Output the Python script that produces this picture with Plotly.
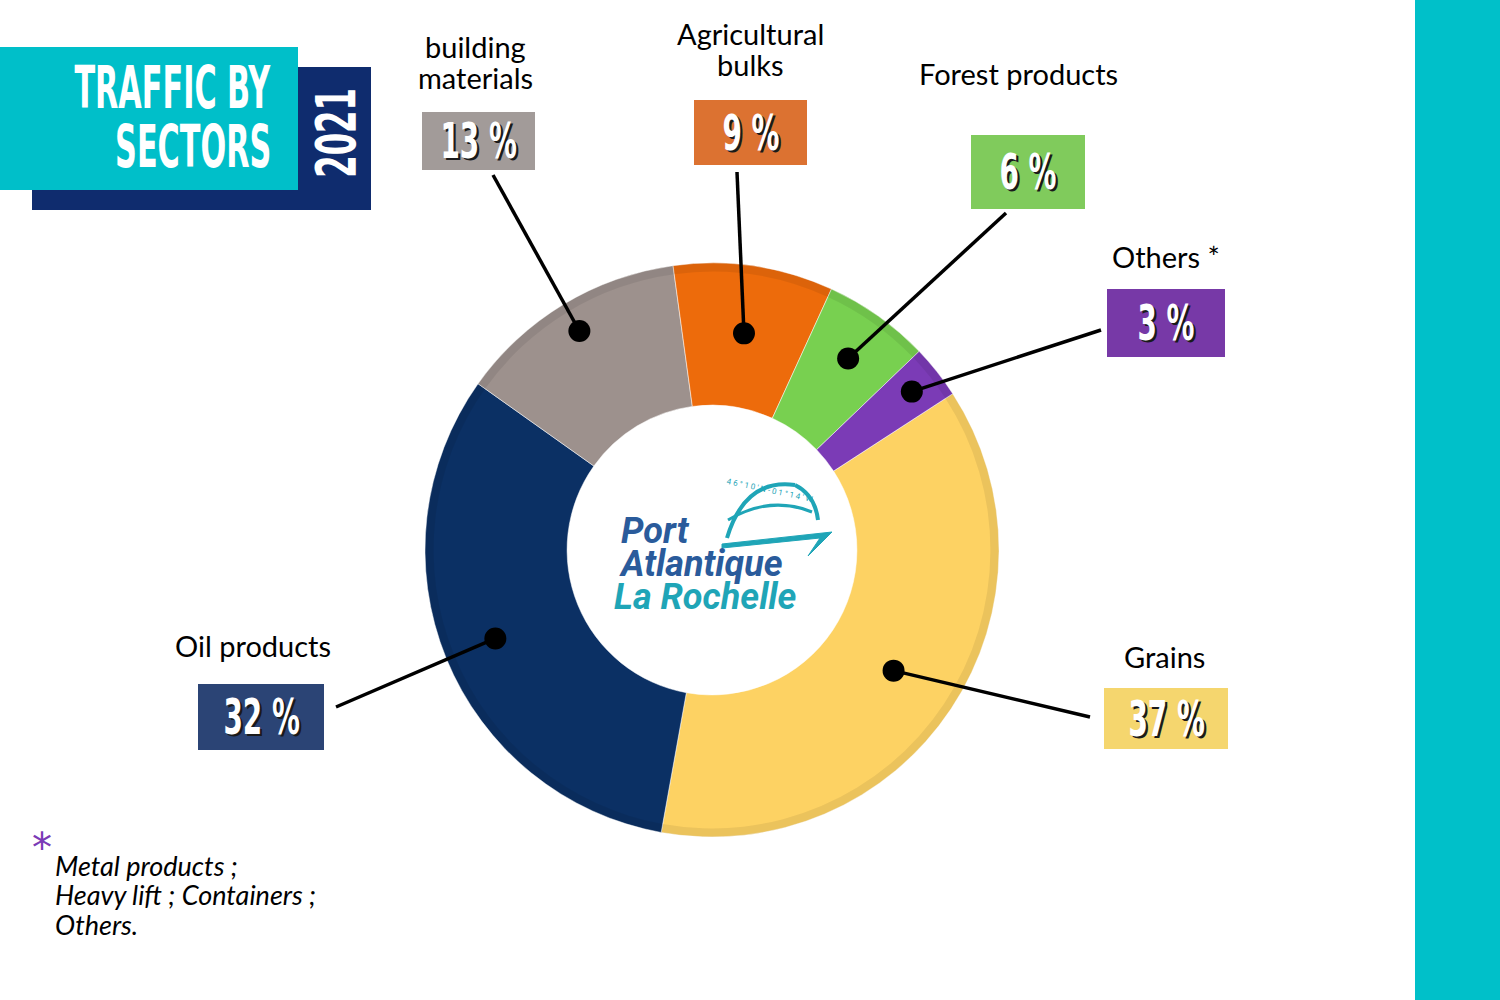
import math
import json
import plotly.graph_objects as go

# ---- data ----
categories = ["Grains", "Oil products", "building<br>materials", "Agricultural<br>bulks",
              "Forest products", "Others *"]
values = [37, 32, 13, 9, 6, 3]
pct_labels = ["37 %", "32 %", "13 %", "9 %", "6 %", "3 %"]
footnote_lines = ["Metal products ;", "Heavy lift ; Containers ;", "Others."]
title_lines = ["TRAFFIC BY", "SECTORS"]
year_label = "2021"

# ---- styles ----
slice_colors = ["#fdd263", "#0b3064", "#9d918d", "#ed6b0b", "#78d050", "#7b3bb6"]
box_colors = ["#f5d66e", "#2b4475", "#a29b99", "#dc7231", "#80cb5c", "#7739a7"]
COND = "DejaVu Sans Condensed, Roboto Condensed, Liberation Sans Narrow, Arial Narrow, sans-serif"
W, H = 1500, 1000
CX, CY, R = 712, 550, 287
ROT = 57


def px(x):
    return x / W


def py(y):
    return 1 - y / H


# label layout (pixel positions): box (x0,y0,x1,y1), title center (x,y), line end (x,y)
boxes = [(1104, 688, 1228, 749), (198, 684, 324, 750), (422, 112, 535, 170),
         (694, 100, 807, 165), (971, 135, 1085, 209), (1107, 289, 1225, 357)]
title_pos = [(1164, 656), (253, 645), (475, 62), (750, 49), (1018, 74), (1166, 256)]
line_end = [(1090, 717), (336, 707), (493, 175), (737, 172), (1006, 213), (1101, 330)]
dot_r = [218, 234, 256, 219, 235, 255]
LINE_GAP = 31

fig = go.Figure()
dom = dict(x=[px(CX - R), px(CX + R)], y=[py(CY + R), py(CY - R)])
fig.add_trace(go.Pie(
    labels=[c.replace("<br>", " ") for c in categories], values=values, sort=False,
    direction="clockwise", rotation=ROT, hole=0.505,
    marker=dict(colors=slice_colors, line=dict(color="rgba(255,255,255,0.5)", width=1)),
    textinfo="none", hoverinfo="label+percent", showlegend=False, domain=dom,
))
# subtle bevel rim on the outer edge
fig.add_trace(go.Pie(
    labels=[c.replace("<br>", " ") for c in categories], values=values, sort=False,
    direction="clockwise", rotation=ROT, hole=0.97,
    marker=dict(colors=["rgba(0,0,0,0.07)"] * len(values), line=dict(width=0)),
    textinfo="none", hoverinfo="skip", showlegend=False, domain=dom,
))

shapes = []
annotations = []
squeeze = []  # (annotation index, scaleX, origin)

# background decorations
shapes.append(dict(type="rect", xref="paper", yref="paper", x0=px(1415), x1=1, y0=0, y1=1,
                   fillcolor="#00c0c9", line=dict(width=0), layer="below"))
shapes.append(dict(type="rect", xref="paper", yref="paper", x0=px(32), x1=px(371), y0=py(210), y1=py(67),
                   fillcolor="#0f2c6e", line=dict(width=0), layer="below"))
shapes.append(dict(type="rect", xref="paper", yref="paper", x0=px(0), x1=px(298), y0=py(190), y1=py(47),
                   fillcolor="#00bfc9", line=dict(width=0), layer="below"))

for i, t in enumerate(title_lines):
    squeeze.append((len(annotations), 0.58, "right center"))
    annotations.append(dict(text=f"<b>{t}</b>", x=px(273), y=py(88 + 59 * i), xref="paper", yref="paper",
                            xanchor="right", yanchor="middle", showarrow=False,
                            font=dict(family=COND, size=58, color="white")))
squeeze.append((len(annotations), 0.64, "center center"))
annotations.append(dict(text=f"<b>{year_label}</b>", x=px(335), y=py(133), xref="paper", yref="paper",
                        textangle=-90, xanchor="center", yanchor="middle", showarrow=False,
                        font=dict(family=COND, size=56, color="white")))

# labels, boxes, leader lines computed from slice angles
total = sum(values)
cum = 0
for i, v in enumerate(values):
    mid = math.radians(ROT + 360 * (cum + v / 2) / total)
    cum += v
    dx = CX + dot_r[i] * math.sin(mid)
    dy = CY - dot_r[i] * math.cos(mid)
    ex, ey = line_end[i]
    shapes.append(dict(type="line", xref="paper", yref="paper", x0=px(dx), y0=py(dy), x1=px(ex), y1=py(ey),
                       line=dict(color="black", width=3.5)))
    shapes.append(dict(type="circle", xref="paper", yref="paper", x0=px(dx - 11), x1=px(dx + 11),
                       y0=py(dy + 11), y1=py(dy - 11), fillcolor="black", line=dict(width=0)))
    x0, y0, x1, y1 = boxes[i]
    shapes.append(dict(type="rect", xref="paper", yref="paper", x0=px(x0), x1=px(x1), y0=py(y1), y1=py(y0),
                       fillcolor=box_colors[i], line=dict(width=0)))
    bx, by = (x0 + x1) / 2, (y0 + y1) / 2
    squeeze.append((len(annotations), 0.62, "center center"))
    annotations.append(dict(text=f"<b>{pct_labels[i]}</b>", x=px(bx), y=py(by), xref="paper", yref="paper",
                            xanchor="center", yanchor="middle", showarrow=False,
                            font=dict(family=COND, size=50, color="white",
                                      shadow="3px 2px 0px #1a1a1a")))
    tx, ty = title_pos[i]
    parts = categories[i].split("<br>")
    for k, part in enumerate(parts):
        ly = ty + (k - (len(parts) - 1) / 2) * LINE_GAP
        annotations.append(dict(text=part, x=px(tx), y=py(ly), xref="paper", yref="paper",
                                xanchor="center", yanchor="middle", showarrow=False,
                                font=dict(family="Lato", size=29, color="black")))

# logo in the centre
annotations.append(dict(text="<b><i>Port</i></b>", x=px(619), y=py(531), xref="paper", yref="paper",
                        xanchor="left", yanchor="middle", showarrow=False,
                        font=dict(family="Roboto", size=36, color="#2a5b9b")))
annotations.append(dict(text="<b><i>Atlantique</i></b>", x=px(617), y=py(564), xref="paper", yref="paper",
                        xanchor="left", yanchor="middle", showarrow=False,
                        font=dict(family="Roboto", size=36, color="#2a5b9b")))
annotations.append(dict(text="<b><i>La Rochelle</i></b>", x=px(612), y=py(597), xref="paper", yref="paper",
                        xanchor="left", yanchor="middle", showarrow=False,
                        font=dict(family="Roboto", size=36, color="#1fa5b7")))
# dome icon
arc = "M {} {} Q {} {} {} {}".format(px(727), py(538), px(745), py(478), px(795), py(485))
shapes.append(dict(type="path", xref="paper", yref="paper", path=arc, line=dict(color="#1fa5b7", width=4)))
arc2 = "M {} {} Q {} {} {} {}".format(px(795), py(485), px(815), py(495), px(818), py(520))
shapes.append(dict(type="path", xref="paper", yref="paper", path=arc2, line=dict(color="#1fa5b7", width=4)))
arc3 = "M {} {} Q {} {} {} {}".format(px(728), py(520), px(770), py(495), px(812), py(512))
shapes.append(dict(type="path", xref="paper", yref="paper", path=arc3, line=dict(color="#1fa5b7", width=3)))
swoosh = "M {} {} L {} {} L {} {} L {} {} L {} {} Z".format(px(722), py(544), px(832), py(532), px(808), py(556),
                                                        px(820), py(538), px(722), py(548))
shapes.append(dict(type="path", xref="paper", yref="paper", path=swoosh, fillcolor="#1fa5b7",
                   line=dict(color="#1fa5b7", width=1)))
annotations.append(dict(text="4 6 ° 1 0 ' N - 0 1 ° 1 4 ' W", x=px(770), y=py(490), xref="paper", yref="paper",
                        textangle=12, xanchor="center", yanchor="middle", showarrow=False,
                        font=dict(family="Roboto", size=8, color="#1fa5b7")))

# footnote
annotations.append(dict(text="*", x=px(42), y=py(848), xref="paper", yref="paper",
                        xanchor="center", yanchor="middle", showarrow=False,
                        font=dict(family="DejaVu Sans", size=40, color="#7b3bb6")))
for i, t in enumerate(footnote_lines):
    annotations.append(dict(text=f"<i>{t}</i>", x=px(53), y=py(865 + 29.5 * i), xref="paper", yref="paper",
                            xanchor="left", yanchor="middle", showarrow=False,
                            font=dict(family="Lato", size=27, color="black")))

fig.update_layout(width=W, height=H, margin=dict(l=0, r=0, t=0, b=0),
                  paper_bgcolor="white", plot_bgcolor="white",
                  shapes=shapes, annotations=annotations)

js = """
document.body.style.margin='0';
var sq = %s;
var gd = document.querySelector('.js-plotly-plot');
sq.forEach(function(p){
  var t = gd.querySelector('g.annotation[data-index="' + p[0] + '"] text');
  if (t) {
    t.style.transformBox = 'fill-box';
    t.style.transformOrigin = p[2];
    t.style.transform = 'scaleX(' + p[1] + ')';
  }
});
""" % json.dumps(squeeze)

fig.write_html("out.html", config={"displayModeBar": False}, post_script=js)
